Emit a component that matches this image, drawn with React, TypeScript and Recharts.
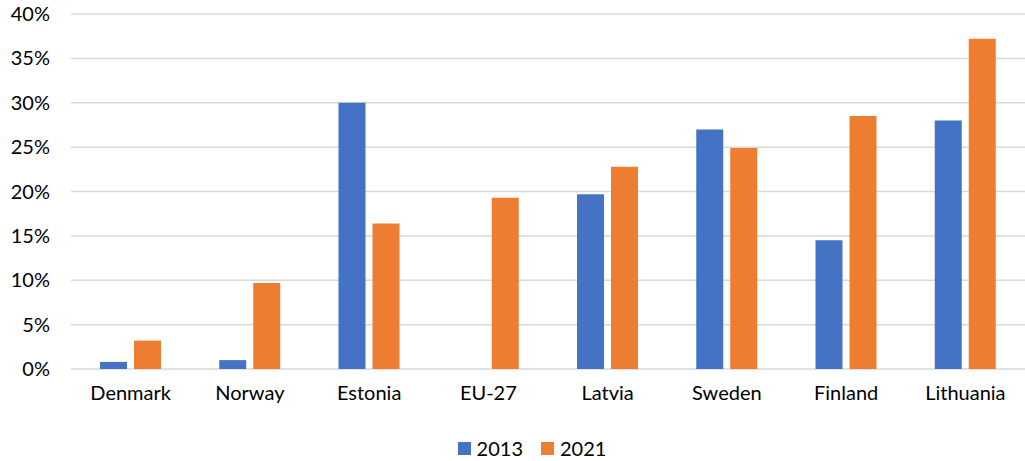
import { BarChart, Bar, XAxis, YAxis, CartesianGrid, Legend } from 'recharts'

const countries = ['Denmark', 'Norway', 'Estonia', 'EU-27', 'Latvia', 'Sweden', 'Finland', 'Lithuania']
const share2013: (number | null)[] = [0.8, 1.0, 30.0, null, 19.7, 27.0, 14.5, 28.0]
const share2021: number[] = [3.2, 9.7, 16.4, 19.3, 22.8, 24.9, 28.5, 37.2]
const yTicks = [0, 5, 10, 15, 20, 25, 30, 35, 40]

const data = countries.map((name, i) => ({
  name,
  y2013: share2013[i],
  y2021: share2021[i],
}))

const FONT = 'Lato, "Open Sans", sans-serif'
const BLUE = '#4472C4'
const ORANGE = '#ED7D31'

// legend row sits a little right of centre, under the plot area
function LegendBox() {
  const items = [
    { label: '2013', color: BLUE },
    { label: '2021', color: ORANGE },
  ]
  return (
    <div
      style={{
        height: 47,
        paddingTop: 24,
        paddingLeft: 39,
        boxSizing: 'border-box',
        display: 'flex',
        justifyContent: 'center',
        fontFamily: FONT,
        fontSize: 20,
        color: '#000',
      }}
    >
      {items.map((it) => (
        <div key={it.label} style={{ display: 'flex', alignItems: 'center', margin: '0 9px', height: 20 }}>
          <span style={{ width: 13, height: 13, background: it.color, marginRight: 6, display: 'inline-block' }} />
          <span>{it.label}</span>
        </div>
      ))}
    </div>
  )
}

export default function App() {
  return (
    <div style={{ position: 'absolute', left: 0, top: 0, background: '#fff' }}>
      <BarChart
        width={1025}
        height={461}
        data={data}
        margin={{ top: 14, right: 0, left: 0, bottom: 0 }}
        barSize={27}
        barGap={7}
      >
        <CartesianGrid vertical={false} stroke="#d9d9d9" strokeWidth={1.5} />
        <XAxis
          dataKey="name"
          axisLine={false}
          tickLine={false}
          height={45}
          tickMargin={11}
          tick={{ fill: '#000', fontSize: 20, fontFamily: FONT }}
        />
        <YAxis
          width={71}
          domain={[0, 40]}
          ticks={yTicks}
          axisLine={false}
          tickLine={false}
          tickMargin={15}
          tickFormatter={(v) => `${v}%`}
          tick={{ fill: '#000', fontSize: 20, fontFamily: FONT }}
        />
        <Legend verticalAlign="bottom" content={() => <LegendBox />} />
        <Bar dataKey="y2013" name="2013" fill={BLUE} isAnimationActive={false} />
        <Bar dataKey="y2021" name="2021" fill={ORANGE} isAnimationActive={false} />
      </BarChart>
    </div>
  )
}
